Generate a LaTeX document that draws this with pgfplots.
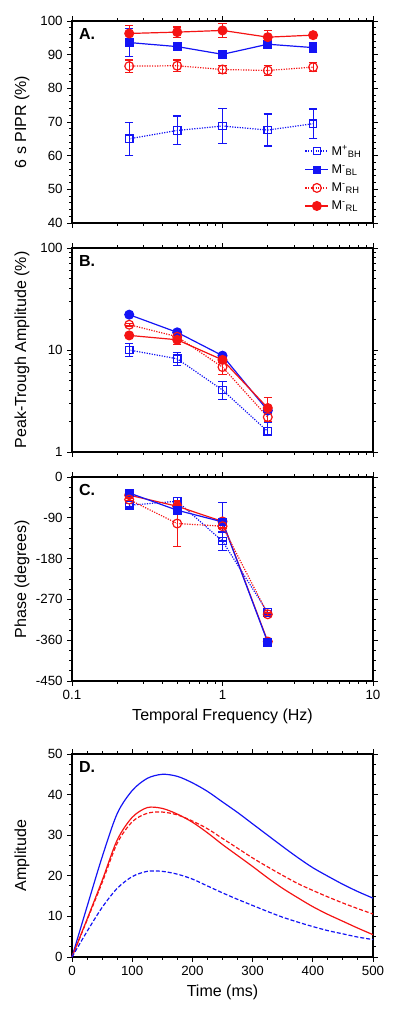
\documentclass[border=0pt]{standalone}
\usepackage{fontspec}
\setmainfont{Liberation Sans}
\usepackage{amsmath}
\usepackage{pgfplots}
\pgfplotsset{compat=1.18}
\definecolor{cb}{RGB}{20,20,245}
\definecolor{cr}{RGB}{245,20,20}
\tikzset{plab/.style={anchor=north west, inner sep=0pt, font=\bfseries\fontsize{12}{14}\selectfont}}
\newcommand{\legM}[2]{M\textsuperscript{#1}\textsubscript{\fontsize{7}{8}\selectfont #2}}
\pgfkeys{/pgf/number format/assume math mode=true}
\pgfplotsset{
  every axis/.append style={
    width=225.75pt, scale only axis,
    tick align=outside, xtick pos=both, ytick pos=both,
    major tick length=3.5pt, minor tick length=2pt,
    every tick/.style={black, line width=0.7pt},
    axis line style={line width=1pt},
    tick label style={font=\fontsize{10}{12}\selectfont},
    label style={font=\fontsize{12}{14}\selectfont},
    clip=false,
  },
  every axis y label/.style={at={(axis description cs:-0.166,0.5)}, rotate=90, anchor=center},
  myEb/.style={error bars/y dir=both, error bars/y explicit,
    error bars/error bar style={solid, line width=0.9pt},
    error bars/error mark options={rotate=90, mark size=3.2pt, solid, line width=0.9pt}},
  sBH/.style={cb, line width=0.9pt, densely dotted, mark=square, mark size=2.8pt, mark options={solid, fill=white}},
  sBL/.style={cb, line width=0.9pt, solid, mark=square*, mark size=2.8pt, mark options={solid, fill=cb}},
  sBLc/.style={cb, line width=0.9pt, solid, mark=*, mark size=3.3pt, mark options={solid, fill=cb}},
  sRH/.style={cr, line width=0.9pt, densely dotted, mark=o, mark size=3.3pt, mark options={solid, fill=white}},
  sRL/.style={cr, line width=0.9pt, solid, mark=*, mark size=3.3pt, mark options={solid, fill=cr}},
}
\begin{document}
\begin{tikzpicture}
\useasboundingbox (0,0) rectangle (300pt,-763.5pt);
% Panel A
\begin{axis}[xmode=log, xmin=0.1, xmax=10, xtick={0.1,1,10},
  minor xtick={0.2,0.3,0.4,0.5,0.6,0.7,0.8,0.9,2,3,4,5,6,7,8,9},
  at={(54pt,-15.75pt)}, anchor=north west, height=151.5pt,
  xticklabels={},
  ymin=40, ymax=100, ytick={40,50,...,100}, minor y tick num=4,
  ylabel={6 s PIPR (\%)},
  legend style={at={(rel axis cs:0.985,0.03)}, anchor=south east, draw=none, fill=none,
    font=\fontsize{9.5}{11}\selectfont, row sep=1.5pt},
  legend cell align=left,
]
\addplot[sBH, myEb] coordinates {(0.24,65.0) +- (0,4.85) (0.5,67.5) +- (0,4.3) (1,68.8) +- (0,5.15) (2,67.6) +- (0,4.75) (4,69.5) +- (0,4.35)};
\addlegendentry{\legM{+}{BH}}
\addplot[sBL, myEb] coordinates {(0.24,93.6) +- (0,4.2) (0.5,92.4) +- (0,1.0) (1,90.1) +- (0,0.6) (2,93.1) +- (0,0.8) (4,92.1) +- (0,1.5)};
\addlegendentry{\legM{-}{BL}}
\addplot[sRH, myEb] coordinates {(0.24,86.6) +- (0,1.8) (0.5,86.7) +- (0,1.7) (1,85.6) +- (0,1.3) (2,85.3) +- (0,1.4) (4,86.3) +- (0,1.4)};
\addlegendentry{\legM{-}{RH}}
\addplot[sRL, myEb] coordinates {(0.24,96.3) +- (0,2.3) (0.5,96.7) +- (0,1.5) (1,97.2) +- (0,2.0) (2,95.2) +- (0,2.0) (4,95.8) +- (0,0.5)};
\addlegendentry{\legM{-}{RL}}
\node[plab] at (rel axis cs:0.023,0.965) {A.};
\end{axis}
% Panel B
\begin{axis}[xmode=log, xmin=0.1, xmax=10, xtick={0.1,1,10},
  minor xtick={0.2,0.3,0.4,0.5,0.6,0.7,0.8,0.9,2,3,4,5,6,7,8,9},
  at={(54pt,-186pt)}, anchor=north west, height=153pt,
  xticklabels={},
  ymode=log, ymin=1, ymax=100, ytick={1,10,100}, yticklabels={1,10,100},
  minor ytick={2,3,4,5,6,7,8,9,20,30,40,50,60,70,80,90},
  ylabel={Peak-Trough Amplitude (\%)},
]
\addplot[sBH, myEb] coordinates {(0.24,10.0) += (0,1.6) -= (0,1.4) (0.5,8.2) += (0,1.3) -= (0,1.1) (1,4.05) += (0,0.85) -= (0,0.75) (2,1.59) += (0,0.35) -= (0,0.1)};
\addplot[sBLc] coordinates {(0.24,22.2) (0.5,14.9) (1,8.8) (2,2.55)};
\addplot[sRH, myEb] coordinates {(0.24,17.7) +- (0,0.5) (0.5,13.5) +- (0,0.5) (1,6.8) +- (0,1.0) (2,2.2) +- (0,0.2)};
\addplot[sRL, myEb] coordinates {(0.24,13.9) +- (0,0.6) (0.5,12.6) +- (0,1.2) (1,8.0) +- (0,0.4) (2,2.7) +- (0,0.7)};
\node[plab] at (rel axis cs:0.023,0.965) {B.};
\end{axis}
% Panel C
\begin{axis}[xmode=log, xmin=0.1, xmax=10, xtick={0.1,1,10},
  minor xtick={0.2,0.3,0.4,0.5,0.6,0.7,0.8,0.9,2,3,4,5,6,7,8,9},
  at={(54pt,-357.75pt)}, anchor=north west, height=153pt,
  xticklabels={0.1,1,10},
  xlabel={Temporal Frequency (Hz)},
  ymin=-450, ymax=0, ytick={-450,-360,-270,-180,-90,0},
  yticklabels={-450,-360,-270,-180,-90,0}, minor y tick num=3,
  ylabel={Phase (degrees)},
]
\addplot[sBH, myEb] coordinates {(0.24,-62.3) +- (0,4) (0.5,-53.5) +- (0,8) (1,-141.5) +- (0,20) (2,-299) +- (0,4)};
\addplot[sRL, myEb] coordinates {(0.24,-40) +- (0,3) (0.5,-64.5) +- (0,10) (1,-98) +- (0,5) (2,-363) +- (0,3)};
\addplot[sBL, myEb] coordinates {(0.24,-35.2) +- (0,3) (0.5,-73.3) +- (0,5) (1,-99) +- (0,42) (2,-365) +- (0,3)};
\addplot[sRH, myEb] coordinates {(0.24,-49.8) +- (0,3) (0.5,-102.6) +- (0,51) (1,-108.5) +- (0,4) (2,-302.8) +- (0,3)};
\node[plab] at (rel axis cs:0.023,0.965) {C.};
\end{axis}
% Panel D
\begin{axis}[at={(54pt,-565.5pt)}, anchor=north west, height=152.25pt,
  xmin=0, xmax=500, xtick={0,100,...,500}, minor x tick num=3,
  ymin=0, ymax=50, ytick={0,10,...,50}, minor y tick num=3,
  xlabel={Time (ms)}, ylabel={Amplitude},
]
\addplot[cb, line width=0.9pt, smooth] coordinates {(0,0) (25,12.4) (50,24.6) (75,35.3) (100,41.0) (125,44.0) (150,45.0) (175,44.5) (200,42.9) (225,40.8) (250,38.2) (275,35.6) (300,32.8) (325,30.0) (350,27.2) (375,24.5) (400,22.0) (425,19.9) (450,17.9) (475,16.1) (500,14.5)};
\addplot[cr, line width=0.9pt, smooth] coordinates {(0,0) (25,9.3) (50,18.8) (75,28.8) (100,34.4) (125,36.8) (150,36.6) (175,35.2) (200,33.2) (225,30.6) (250,27.7) (275,25.0) (300,22.3) (325,19.5) (350,16.9) (375,14.6) (400,12.4) (425,10.5) (450,8.8) (475,7.1) (500,5.5)};
\addplot[cr, line width=0.9pt, dash pattern=on 3pt off 1.5pt, smooth] coordinates {(0,0) (25,9.1) (50,18.3) (75,28.0) (100,33.3) (125,35.4) (150,35.7) (175,35.0) (200,33.5) (225,31.6) (250,29.2) (275,26.8) (300,24.4) (325,22.2) (350,20.1) (375,18.1) (400,16.4) (425,14.8) (450,13.3) (475,11.9) (500,10.6)};
\addplot[cb, line width=0.9pt, dash pattern=on 3pt off 1.5pt, smooth] coordinates {(0,0) (25,6.3) (50,12.2) (75,16.9) (100,19.8) (125,21.1) (150,21.1) (175,20.4) (200,19.2) (225,17.5) (250,15.8) (275,14.2) (300,12.7) (325,11.2) (350,9.8) (375,8.6) (400,7.5) (425,6.5) (450,5.7) (475,4.9) (500,4.3)};
\node[plab] at (rel axis cs:0.023,0.965) {D.};
\end{axis}
\end{tikzpicture}
\end{document}
